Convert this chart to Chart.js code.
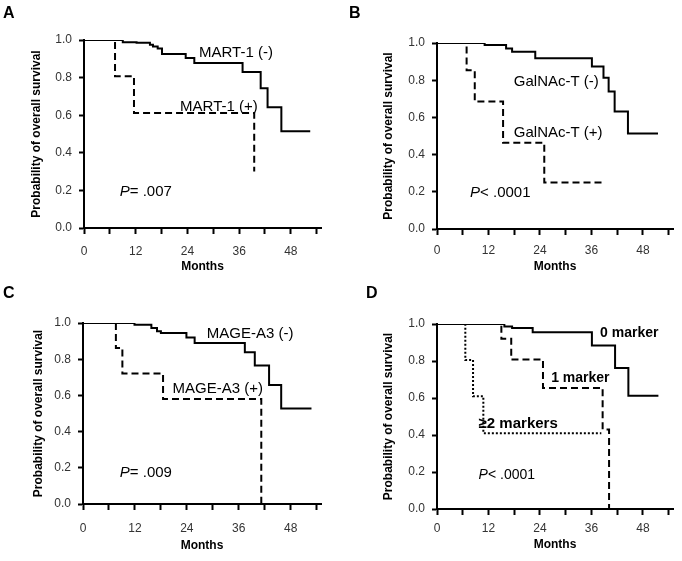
<!DOCTYPE html>
<html>
<head>
<meta charset="utf-8">
<script src="https://cdn.jsdelivr.net/npm/chart.js@4.4.1/dist/chart.umd.min.js"></script>
<style>
  body { margin: 0; background: #fff; }
  #wrap { position: relative; width: 682px; height: 561px; }
  canvas { position: absolute; }
</style>
</head>
<body>
<div id="wrap">
  <canvas id="panelA" width="341" height="280" style="left:0;top:0"></canvas>
  <canvas id="panelB" width="341" height="280" style="left:341px;top:0"></canvas>
  <canvas id="panelC" width="341" height="281" style="left:0;top:280px"></canvas>
  <canvas id="panelD" width="341" height="281" style="left:341px;top:280px"></canvas>
</div>
<script>
// x ticks (months) and y ticks (survival probability)
const monthTicks = [0, 6, 12, 18, 24, 30, 36, 42, 48, 54];
const monthLabels = [0, 12, 24, 36, 48];

// A: MART-1
const martNegX = [0, 9.0, 12.2, 15.3, 16.0, 17.1, 18.1, 23.6, 25.6, 36.8, 41.0, 42.6, 45.8, 52.5];
const martNegY = [1, 0.988, 0.985, 0.975, 0.965, 0.955, 0.925, 0.904, 0.878, 0.83, 0.743, 0.642, 0.515, 0.515];
const martPosX = [0, 7.2, 11.6, 39.5];
const martPosY = [1, 0.807, 0.612, 0.30];

// B: GalNAc-T
const galNegX = [0, 11.1, 16.1, 17.5, 22.9, 36.1, 38.8, 40.0, 41.4, 44.5, 51.5];
const galNegY = [1, 0.989, 0.971, 0.953, 0.918, 0.874, 0.813, 0.739, 0.632, 0.514, 0.514];
const galPosX = [0, 6.9, 8.8, 15.4, 25.0, 38.7];
const galPosY = [1, 0.853, 0.685, 0.464, 0.25, 0.25];

// C: MAGE-A3
const mageNegX = [0, 11.9, 15.8, 17.1, 18.0, 23.9, 25.8, 37.4, 39.7, 43.0, 45.8, 52.8];
const mageNegY = [1, 0.99, 0.972, 0.954, 0.945, 0.92, 0.89, 0.838, 0.765, 0.658, 0.528, 0.528];
const magePosX = [0, 7.6, 9.1, 18.5, 41.2];
const magePosY = [1, 0.862, 0.721, 0.58, 0];

// D: number of markers
const zeroX = [0, 15.7, 17.5, 22.3, 36.1, 41.5, 44.6, 51.6];
const zeroY = [1, 0.986, 0.978, 0.956, 0.884, 0.762, 0.612, 0.612];
const oneX = [0, 15.0, 17.3, 24.7, 38.6, 40.1];
const oneY = [1, 0.92, 0.808, 0.654, 0.43, 0];
const twoX = [0, 6.6, 8.4, 10.8, 38.3];
const twoY = [1, 0.806, 0.61, 0.41, 0.41];

const FONT = 'Arial, "Liberation Sans", sans-serif';

function pts(xs, ys) {
  return xs.map((x, i) => ({ x: x, y: ys[i] }));
}

// panel letter + curve labels + p value, anchored on the data scales
const notesPlugin = {
  id: 'notes',
  afterDraw(chart, args, o) {
    const ctx = chart.ctx;
    const sx = chart.scales.x, sy = chart.scales.y;
    ctx.save();
    ctx.fillStyle = '#000';
    ctx.textAlign = 'left';
    ctx.textBaseline = 'alphabetic';
    ctx.font = 'bold 16px ' + FONT;
    ctx.fillText(o.letter, o.letterX, 18);
    ctx.textBaseline = 'middle';
    o.items.forEach(n => {
      let px = sx.getPixelForValue(n.x);
      const py = sy.getPixelForValue(n.y);
      if (n.italic) {
        ctx.font = 'italic ' + n.size + 'px ' + FONT;
        ctx.fillText(n.italic, px, py);
        px += ctx.measureText(n.italic).width;
      }
      ctx.font = (n.bold ? 'bold ' : '') + n.size + 'px ' + FONT;
      ctx.fillText(n.text, px, py);
    });
    ctx.restore();
  }
};
Chart.register(notesPlugin);

function makePanel(id, geo, sets, notes) {
  return new Chart(document.getElementById(id), {
    type: 'line',
    data: {
      datasets: sets.map(s => ({
        data: pts(s.x, s.y),
        borderColor: '#000',
        borderWidth: 2,
        borderDash: s.dash || [],
        stepped: true,
        pointRadius: 0,
        fill: false
      }))
    },
    options: {
      responsive: false,
      animation: false,
      layout: { padding: { left: geo.padL, top: geo.top, right: geo.padR, bottom: geo.padB } },
      plugins: { legend: { display: false }, tooltip: { enabled: false }, notes: notes },
      scales: {
        x: {
          type: 'linear', min: 0, max: 55,
          afterBuildTicks: s => { s.ticks = monthTicks.map(v => ({ value: v })); },
          afterFit: s => { s.height = geo.xH; },
          ticks: {
            autoSkip: false, maxRotation: 0, padding: geo.tickPad, color: '#333',
            font: { family: FONT, size: 12 },
            callback: v => monthLabels.includes(v) ? String(v) : ''
          },
          grid: { drawOnChartArea: false, tickLength: 6, tickWidth: 2, color: '#000' },
          border: { color: '#000', width: 2 },
          title: { display: true, text: 'Months', color: '#000',
                   font: { family: FONT, size: 12, weight: 'bold' }, padding: { top: 4, bottom: 4 } }
        },
        y: {
          min: 0, max: 1,
          afterFit: s => { s.width = geo.yW; },
          ticks: {
            stepSize: 0.2, padding: 7, color: '#333',
            font: { family: FONT, size: 12 },
            callback: v => v.toFixed(1)
          },
          grid: { drawOnChartArea: false, tickLength: 5, tickWidth: 2, color: '#000' },
          border: { color: '#000', width: 2 },
          title: { display: true, text: 'Probability of overall survival', color: '#000',
                   font: { family: FONT, size: 12, weight: 'bold' }, padding: { top: 4, bottom: 4 } }
        }
      }
    }
  });
}

const DASH = [7, 4];
const DOT = [2, 2];

makePanel('panelA', { padL: 25, yW: 59, top: 40, padR: 20, xH: 50, padB: 2, tickPad: 10 },
  [{ x: martNegX, y: martNegY }, { x: martPosX, y: martPosY, dash: DASH }],
  { letter: 'A', letterX: 3, items: [
    { text: 'MART-1 (-)', x: 26.7, y: 0.93, size: 15 },
    { text: 'MART-1 (+)', x: 22.3, y: 0.645, size: 15 },
    { italic: 'P', text: '= .007', x: 8.3, y: 0.193, size: 15 }
  ] });

makePanel('panelB', { padL: 36, yW: 60, top: 43, padR: 9, xH: 49, padB: 2, tickPad: 8 },
  [{ x: galNegX, y: galNegY }, { x: galPosX, y: galPosY, dash: DASH }],
  { letter: 'B', letterX: 8, items: [
    { text: 'GalNAc-T (-)', x: 17.9, y: 0.79, size: 15 },
    { text: 'GalNAc-T (+)', x: 17.9, y: 0.515, size: 15 },
    { italic: 'P', text: '< .0001', x: 7.7, y: 0.195, size: 15 }
  ] });

makePanel('panelC', { padL: 27, yW: 56, top: 43, padR: 20, xH: 53, padB: 4, tickPad: 11 },
  [{ x: mageNegX, y: mageNegY }, { x: magePosX, y: magePosY, dash: DASH }],
  { letter: 'C', letterX: 3, items: [
    { text: 'MAGE-A3 (-)', x: 28.6, y: 0.94, size: 15 },
    { text: 'MAGE-A3 (+)', x: 20.7, y: 0.638, size: 15 },
    { italic: 'P', text: '= .009', x: 8.5, y: 0.17, size: 15 }
  ] });

makePanel('panelD', { padL: 36, yW: 60, top: 44, padR: 9, xH: 47, padB: 5, tickPad: 6 },
  [{ x: zeroX, y: zeroY }, { x: oneX, y: oneY, dash: DASH }, { x: twoX, y: twoY, dash: DOT }],
  { letter: 'D', letterX: 25, items: [
    { text: '0 marker', x: 38.0, y: 0.953, size: 14, bold: true },
    { text: '1 marker', x: 26.6, y: 0.708, size: 14, bold: true },
    { text: '\u22652 markers', x: 9.7, y: 0.46, size: 15, bold: true },
    { italic: 'P', text: '< .0001', x: 9.7, y: 0.183, size: 14 }
  ] });
</script>
</body>
</html>
